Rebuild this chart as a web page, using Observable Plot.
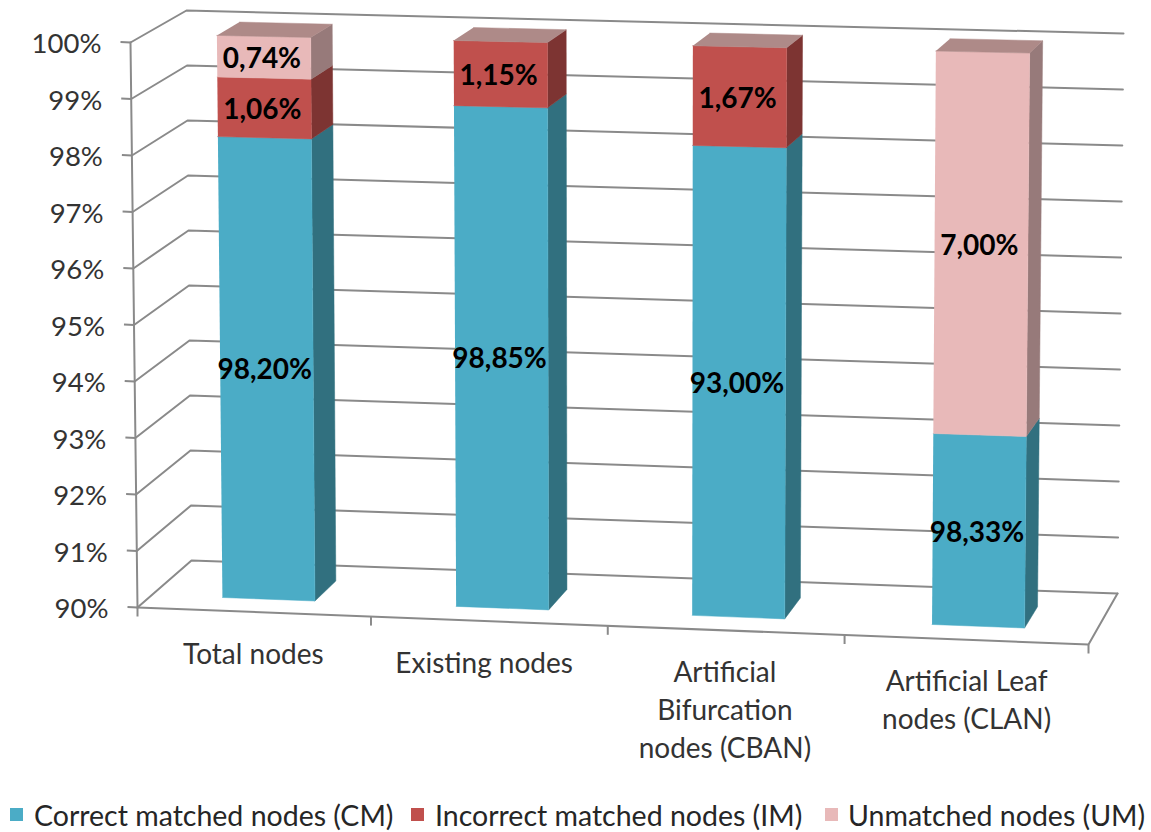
<!DOCTYPE html>
<html>
<head>
<meta charset="utf-8">
<script src="https://cdn.jsdelivr.net/npm/d3@7"></script>
<script src="https://cdn.jsdelivr.net/npm/@observablehq/plot@0.6"></script>
<style>
html,body{margin:0;padding:0;background:#fff;overflow:hidden}
svg{display:block}
#legend{position:relative;height:37px;font:28.5px Lato,sans-serif;color:#262626;white-space:nowrap}
#legend span{position:absolute}
#legend i{position:absolute;width:13px;height:13px;top:13px}
</style>
</head>
<body>
<div id="chart"></div>
<div id="legend"></div>
<script>
// ---- data ----
const categories = ["Total nodes","Existing nodes","Artificial\nBifurcation\nnodes (CBAN)","Artificial Leaf\nnodes (CLAN)"];
const seriesNames = ["Correct matched nodes (CM)","Incorrect matched nodes (IM)","Unmatched nodes (UM)"];
// drawn heights of the stacked segments
const correct   = [98.20, 98.85, 98.25, 93.33];
const incorrect = [1.06, 1.15, 1.75, 0];
const unmatched = [0.74, 0, 0, 6.67];
// printed labels (as they appear in the picture)
const correctLabels   = ["98,20%","98,85%","93,00%","98,33%"];
const incorrectLabels = ["1,06%","1,15%","1,67%",""];
const unmatchedLabels = ["0,74%","","","7,00%"];
const valueTicks = [90,91,92,93,94,95,96,97,98,99,100];

// ---- styles ----
const frontColors = ["#4BACC6","#C0504D","#E8B9B9"];
const sideColors  = ["#31707F","#7D3432","#977A7A"];
const topColor = "#AE8A88";
const gridColor = "#8A8A8A";
const textColor = "#333333";
const font = "Lato, sans-serif";

// ---- layout of the oblique box: (across 0..1, value, depth 0..1) -> page position ----
const box = {
  fl0:[137,607], fr0:[1088,644], bl0:[191,560], br0:[1117,593],
  fl1:[130,42],  fr1:[1094,62],  bl1:[186,10],  br1:[1123,33]
};
const barCenters = [0.1235,0.371,0.621,0.875];
const floorTicks = [0,0.2455,0.4945,0.7435,1];
const catNudge = [0,-7,-4,0];
const mix = (a,b,t)=>a+(b-a)*t;
function P(u,v,d){
  const t=(v-90)/10;
  const at=i=>{
    const f0=mix(box.fl0[i],box.fr0[i],u), b0=mix(box.bl0[i],box.br0[i],u);
    const f1=mix(box.fl1[i],box.fr1[i],u), b1=mix(box.bl1[i],box.br1[i],u);
    return mix(mix(f0,b0,d),mix(f1,b1,d),t);
  };
  return {x:at(0),y:at(1)};
}
const barWidth=0.098, d1=0.27, d2=0.69;
const slot=i=>(i+0.5)/categories.length;

// bar faces
const polys=[]; let pid=0;
function poly(pts,color){const id=pid++;pts.forEach(p=>polys.push({...p,id,color}));}
const labels=[];
categories.forEach((c,i)=>{
  const u0=barCenters[i]-barWidth/2,u1=barCenters[i]+barWidth/2;
  const segs=[correct[i],incorrect[i],unmatched[i]];
  const texts=[correctLabels[i],incorrectLabels[i],unmatchedLabels[i]];
  let base=0;
  segs.forEach((s,k)=>{
    if(!s) return;
    const top=base+s;
    const vTop=Math.min(top,100), vBase=Math.max(base,90);
    poly([P(u1,vBase,d1),P(u1,vBase,d2),P(u1,vTop,d2),P(u1,vTop,d1)],sideColors[k]);
    poly([P(u0,vBase,d1),P(u1,vBase,d1),P(u1,vTop,d1),P(u0,vTop,d1)],frontColors[k]);
    labels.push({...P(barCenters[i],(vBase+vTop)/2,d1),text:texts[k]});
    base=top;
  });
  const h=Math.min(base,100);
  poly([P(u0,h,d1),P(u1,h,d1),P(u1,h,d2),P(u0,h,d2)],topColor);
});

// back and side wall gridlines
const grid=valueTicks.flatMap(v=>[P(0,v,0),P(0,v,1),P(1,v,1)].map(p=>({...p,v})));
const edge=[P(0,90,0),P(1,90,0),P(1,90,1)];
const axisLine=[P(0,90,0),P(0,100,0)];
const valueStubs=valueTicks.map(v=>({v,...P(0,v,0)}));
const catStubs=floorTicks.map(u=>P(u,90,0));
const catLabels=categories.map((c,i)=>({text:c,n:catNudge[i],...P(slot(i),90,0)}));

const W=1151,H=795;
const chart=Plot.plot({
  width:W,height:H,margin:0,
  x:{domain:[0,W],range:[0,W],axis:null},
  y:{domain:[0,H],range:[0,H],axis:null},
  color:{type:"identity"},
  style:{background:"#fff"},
  marks:[
    Plot.line(grid,{x:"x",y:"y",z:"v",stroke:gridColor,strokeWidth:2}),
    Plot.line(edge,{x:"x",y:"y",stroke:gridColor,strokeWidth:2}),
    Plot.line(axisLine,{x:"x",y:"y",stroke:gridColor,strokeWidth:2}),
    Plot.link(valueStubs,{x1:d=>d.x-10,x2:"x",y1:d=>d.y-0.5,y2:"y",stroke:gridColor,strokeWidth:2}),
    Plot.link(catStubs,{x1:"x",x2:"x",y1:"y",y2:d=>d.y+9,stroke:gridColor,strokeWidth:2}),
    Plot.line(polys,{x:"x",y:"y",z:"id",fill:"color",stroke:"color",strokeWidth:0.5}),
    Plot.text(valueStubs,{x:"x",y:"y",text:d=>d.v+"%",textAnchor:"end",dx:-29,dy:2,fontFamily:font,fontSize:27.5,fill:textColor}),
    Plot.text(catLabels,{x:d=>d.x+d.n,y:"y",text:"text",lineAnchor:"top",dx:-3,dy:24.5,lineHeight:1.36,fontFamily:font,fontSize:28,fill:textColor}),
    Plot.text(labels,{x:"x",y:"y",text:"text",dx:-2,dy:2,fontFamily:font,fontSize:28,fontWeight:700,fill:"#000"})
  ]
});
document.getElementById("chart").appendChild(chart);

// legend below the chart
const legendPos=[{s:10,t:34},{s:411,t:435},{s:825,t:848}];
const legend=document.getElementById("legend");
seriesNames.forEach((n,k)=>{
  const i=document.createElement("i");i.style.left=legendPos[k].s+"px";i.style.background=frontColors[k];legend.appendChild(i);
  const s=document.createElement("span");s.style.left=legendPos[k].t+"px";s.style.top="3px";s.textContent=n;legend.appendChild(s);
});
</script>
</body>
</html>
